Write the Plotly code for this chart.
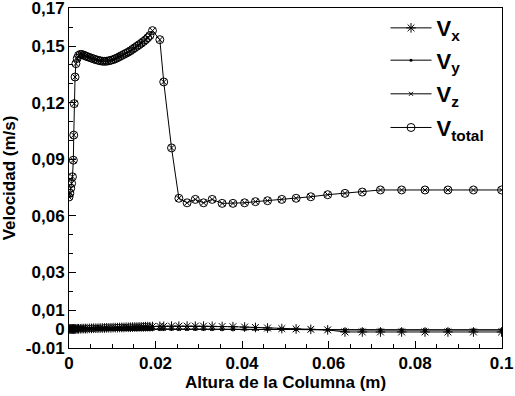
import plotly.graph_objects as go

# ---- data ----
altura = [0, 0.0002, 0.0004, 0.0006, 0.0008, 0.0010, 0.0011, 0.0012, 0.0014, 0.0016,
          0.0019, 0.0022, 0.0026, 0.0030, 0.0034, 0.0038, 0.0042,
          0.0047, 0.0052, 0.0057, 0.0062, 0.0067, 0.0072, 0.0077, 0.0082, 0.0087, 0.0092,
          0.0097, 0.0102, 0.0107, 0.0112, 0.0117, 0.0122, 0.0127, 0.0132, 0.0137, 0.0142,
          0.0147, 0.0152, 0.0157, 0.0162, 0.0167, 0.0172, 0.0177, 0.0182, 0.0187,
          0.0193, 0.0210, 0.0219, 0.0237, 0.0254,
          0.0273, 0.0292, 0.0311, 0.0331, 0.0354, 0.0379, 0.0406, 0.0431, 0.0459, 0.0492,
          0.0525, 0.0559, 0.0598,
          0.0638, 0.0678, 0.0720, 0.0769, 0.0823, 0.0876, 0.0935, 0.1000]

v_total = [0.0700, 0.0719, 0.0746, 0.0772, 0.0807, 0.0895, 0.1028, 0.1195, 0.1336, 0.1407,
           0.1435, 0.1450, 0.1456, 0.1455, 0.1452, 0.1448, 0.1444,
           0.1440, 0.1436, 0.1432, 0.1428, 0.1425, 0.1422, 0.1420, 0.1419, 0.1420, 0.1422,
           0.1425, 0.1428, 0.1433, 0.1438, 0.1444, 0.1450, 0.1456, 0.1462, 0.1468, 0.1475,
           0.1483, 0.1491, 0.1499, 0.1507, 0.1515, 0.1524, 0.1533, 0.1544, 0.1556,
           0.1582, 0.1534, 0.1310, 0.0960, 0.0693,
           0.0669, 0.0687, 0.0669, 0.0687, 0.0666, 0.0666, 0.0669, 0.0675, 0.0680, 0.0687,
           0.0693, 0.0701, 0.0712,
           0.0719, 0.0726, 0.0737, 0.0737, 0.0737, 0.0737, 0.0737, 0.0737]

v_x = [0, 0, 0, 0, 0, 0, 0, 0, 0, 0.0001,
       0.0001, 0.0001, 0.0001, 0.0002, 0.0002, 0.0002, 0.0002,
       0.0003, 0.0003, 0.0004, 0.0004, 0.0004, 0.0005, 0.0005, 0.0005, 0.0006, 0.0006,
       0.0006, 0.0007, 0.0007, 0.0007, 0.0008, 0.0008, 0.0008, 0.0009, 0.0009, 0.0009,
       0.0010, 0.0010, 0.0010, 0.0011, 0.0011, 0.0011, 0.0012, 0.0012, 0.0012,
       0.0013, 0.0014, 0.0014, 0.0015, 0.0015,
       0.0015, 0.0015, 0.0015, 0.0014, 0.0013, 0.0012, 0.0010, 0.0008, 0.0005, 0.0002,
       0.0000, -0.0002, -0.0005,
       -0.0016, -0.0016, -0.0016, -0.0016, -0.0016, -0.0016, -0.0016, -0.0016]

v_y = [0, 0, 0, 0, 0, 0, 0, 0, 0, 0,
       0, 0, 0, 0, 0, 0, 0,
       0, 0, 0, 0, 0, 0, 0, 0, -0.0001, -0.0001,
       -0.0001, -0.0001, -0.0002, -0.0002, -0.0002, -0.0002, -0.0002, -0.0002, -0.0002, -0.0002,
       -0.0002, -0.0002, -0.0002, -0.0002, -0.0002, -0.0002, -0.0002, -0.0002, -0.0002,
       -0.0002, -0.0002, -0.0002, -0.0002, -0.0002,
       -0.0002, -0.0002, -0.0002, -0.0002, -0.0002, -0.0002, -0.0002, -0.0002, -0.0002, -0.0002,
       -0.0003, -0.0004, -0.0005,
       -0.0005, -0.0005, -0.0005, -0.0005, -0.0005, -0.0005, -0.0005, -0.0005]

v_z = [0, 0, 0, 0, 0, 0, 0, 0, 0, 0,
       0, 0, 0, 0, 0, 0, 0,
       0, 0, 0, 0, 0, 0, 0, 0, 0, 0,
       0, 0, 0, 0, 0, 0, 0, 0, 0, 0,
       0, 0, 0, 0, 0, 0, 0, 0, 0,
       0, 0, 0, 0, 0,
       0, 0, 0, 0, 0, 0, 0, 0, -0.0001, -0.0001,
       -0.0002, -0.0003, -0.0004,
       -0.0005, -0.0005, -0.0005, -0.0005, -0.0005, -0.0005, -0.0005, -0.0005]

y_tickvals = [-0.01, 0, 0.01, 0.03, 0.06, 0.09, 0.12, 0.15, 0.17]
y_ticktext = ["-0.01", "0", "0,01", "0,03", "0,06", "0,09", "0,12", "0,15", "0,17"]
x_tickvals = [0, 0.02, 0.04, 0.06, 0.08, 0.1]
x_ticktext = ["0", "0.02", "0.04", "0.06", "0.08", "0.1"]

FONT = "Liberation Sans, Arial, sans-serif"
line = dict(color="black", width=1)

fig = go.Figure()
fig.add_trace(go.Scatter(x=altura, y=v_x, mode="lines+markers", name="<b>V<sub>x</sub></b>",
                         legend="legend",
                         line=line, marker=dict(symbol="asterisk-open", size=8, color="black",
                                                line=dict(color="black", width=1))))
fig.add_trace(go.Scatter(x=altura, y=v_y, mode="lines+markers", name="<b>V<sub>y</sub></b>",
                         legend="legend2",
                         line=line, marker=dict(symbol="circle", size=3, color="black")))
fig.add_trace(go.Scatter(x=altura, y=v_z, mode="lines+markers", name="<b>V<sub>z</sub></b>",
                         legend="legend3",
                         line=line, marker=dict(symbol="x-thin-open", size=4, color="black",
                                                line=dict(color="black", width=1))))
fig.add_trace(go.Scatter(x=altura, y=v_total, mode="lines+markers", showlegend=False,
                         line=line, marker=dict(symbol="circle-x-open", size=8, color="black",
                                                line=dict(color="black", width=1))))
fig.add_trace(go.Scatter(x=[None], y=[None], mode="lines+markers", name="<b>V<sub>total</sub></b>",
                         legend="legend4",
                         line=line, marker=dict(symbol="circle-open", size=8, color="black",
                                                line=dict(color="black", width=1))))

axis_common = dict(showline=True, linecolor="black", linewidth=1, mirror=True,
                   ticks="inside", ticklen=7, tickcolor="black", tickwidth=1,
                   showgrid=False, zeroline=False, automargin=False,
                   ticklabeloverflow="allow",
                   tickfont=dict(family=FONT, size=17, color="black", weight="bold"))

fig.update_xaxes(range=[0, 0.1001], tickmode="array", tickvals=x_tickvals, ticktext=x_ticktext,
                 minor=dict(tickmode="linear", tick0=0, dtick=0.005, ticks="inside", ticklen=4,
                            tickcolor="black"),
                 title=dict(text="Altura de la Columna (m)", standoff=3,
                            font=dict(family=FONT, size=17, color="black", weight="bold")),
                 **axis_common)
fig.update_yaxes(range=[-0.0101, 0.1702], tickmode="array", tickvals=y_tickvals, ticktext=y_ticktext,
                 minor=dict(tickmode="linear", tick0=0, dtick=0.01, ticks="inside", ticklen=4,
                            tickcolor="black"),
                 title=dict(text="Velocidad (m/s)", standoff=5,
                            font=dict(family=FONT, size=17, color="black", weight="bold")),
                 **axis_common)

leg = dict(xanchor="left", yanchor="middle", bgcolor="rgba(0,0,0,0)", itemwidth=41,
           font=dict(family=FONT, size=22, color="black"))
fig.update_layout(
    width=515, height=396,
    margin=dict(l=69, r=13, t=8, b=48, autoexpand=False),
    paper_bgcolor="white", plot_bgcolor="white",
    showlegend=True,
    legend=dict(x=0.731, y=0.941, **leg),
    legend2=dict(x=0.731, y=0.846, **leg),
    legend3=dict(x=0.731, y=0.747, **leg),
    legend4=dict(x=0.731, y=0.648, **leg),
)

fig.write_html("out.html", config={"displayModeBar": False},
               post_script="document.body.style.margin='0';")
